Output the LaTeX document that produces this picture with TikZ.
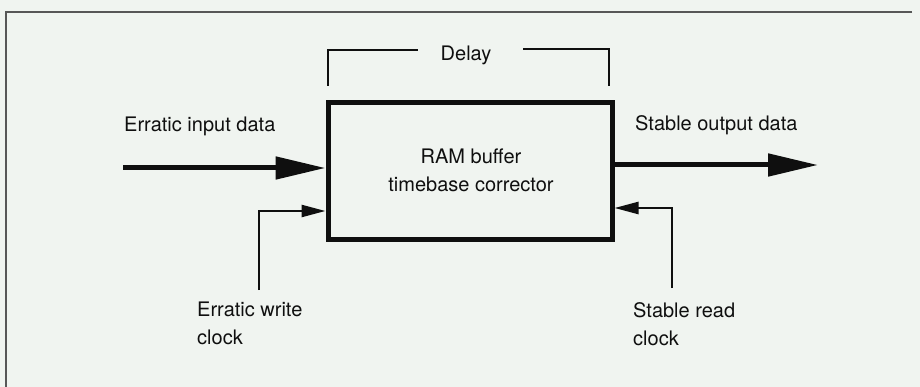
\documentclass[tikz,border=0pt]{standalone}
\usepackage{fontspec}
\setmainfont{TeX Gyre Heros}
\usetikzlibrary{arrows.meta}
\definecolor{paper}{RGB}{240,244,240}
\definecolor{ink}{RGB}{15,15,15}
\begin{document}
\begin{tikzpicture}[x=1pt,y=-1pt,
  lbl/.style={font=\fontsize{20}{28}\selectfont, text=ink, inner sep=0pt, align=left},
  bigarrow/.style={draw=ink, line width=5pt, -{Triangle[length=50pt,width=22pt]}},
  smallarrow/.style={draw=ink, line width=2.5pt, -{Triangle[length=24pt,width=12pt]}},
  bracketline/.style={draw=ink, line width=2.5pt},
  framelines/.style={draw=ink!70, line width=1.2pt},
  blockbox/.style={draw=ink, line width=5pt, minimum width=284pt, minimum height=137pt, inner sep=0pt}]
\fill[paper] (0,0) rectangle (920,387);
\useasboundingbox (0,0) rectangle (920,387);
% frame
\draw[framelines] (912,12) -- (6,12) -- (6,387);
% main block
\node[blockbox] (box) at (470,171.5) {};
\node[lbl, align=center] (boxtext) at (471,170) {RAM buffer\\timebase corrector};
% delay bracket
\node[lbl] (delay) at (466,55) {Delay};
\coordinate (bl) at (328,86);
\coordinate (blt) at (418,50);
\coordinate (br) at (609,86);
\coordinate (brt) at (523,49);
\draw[bracketline] (bl) |- (blt);
\draw[bracketline] (br) |- (brt);
% input / output
\node[lbl, anchor=west] (inlbl) at (124,126) {Erratic input data};
\node[lbl, anchor=west] (outlbl) at (635,125) {Stable output data};
\coordinate (inS) at (123,168);
\coordinate (outE) at (818,165);
\draw[bigarrow] (inS) -- (box.west |- inS);
\draw[bigarrow] (box.east |- outE) -- (outE);
% clocks
\coordinate (wc) at (259,290);
\coordinate (wcin) at (330,211);
\coordinate (rc) at (672,288);
\coordinate (rcin) at (612,208);
\draw[smallarrow] (wc) |- (box.west |- wcin);
\draw[smallarrow] (rc) |- (box.east |- rcin);
\node[lbl, anchor=north west] (wlbl) at (197,302) {Erratic write\\clock};
\node[lbl, anchor=north west] (rlbl) at (633,302) {Stable read\\clock};
\end{tikzpicture}
\end{document}
